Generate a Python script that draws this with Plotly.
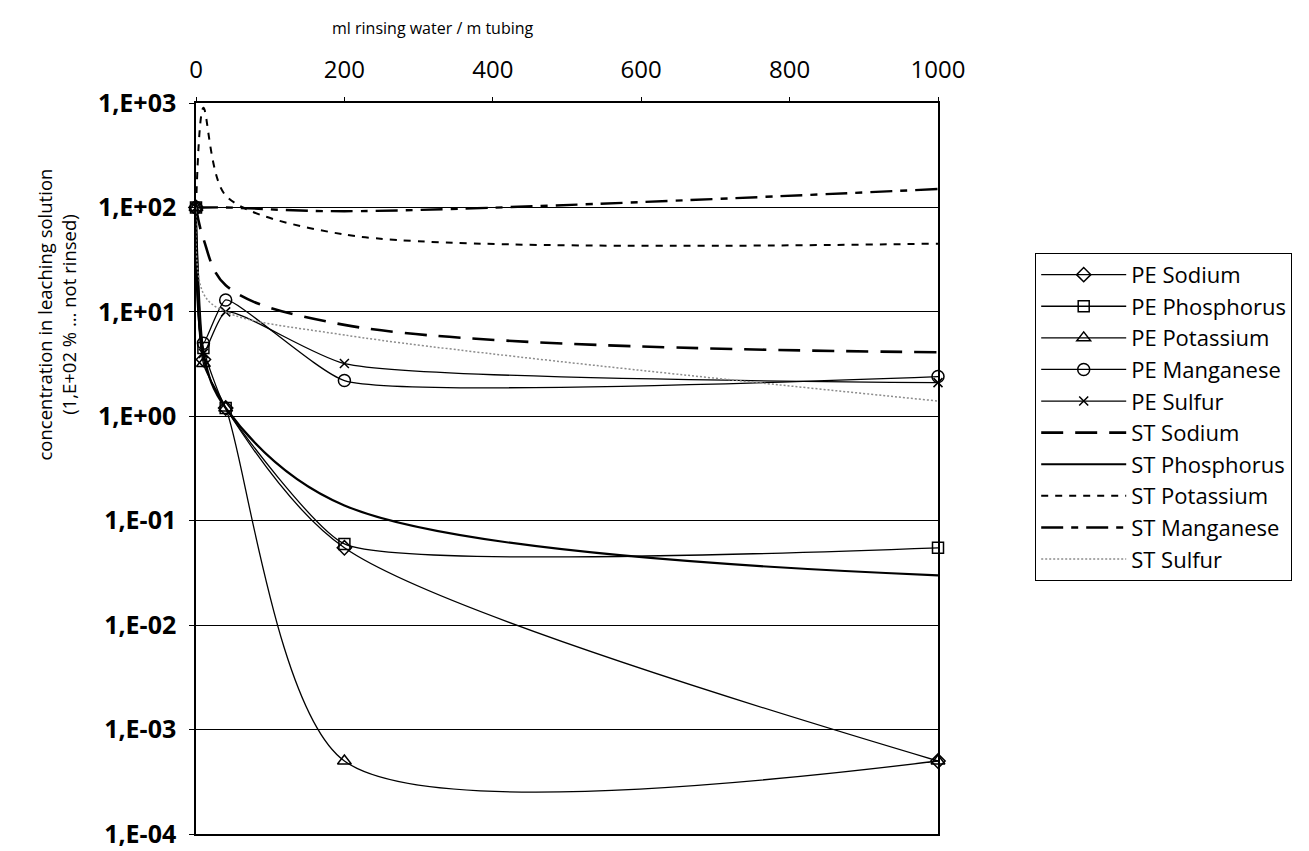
import plotly.graph_objects as go

x_ml = [0, 10, 40, 200, 1000]

pe_sodium = [100, 3.5, 1.2, 0.055, 0.0005]
pe_phosphorus = [100, 4.5, 1.2, 0.06, 0.055]
pe_potassium = [100, 3.2, 1.2, 0.0005, 0.0005]
pe_manganese = [100, 5.0, 13.0, 2.2, 2.4]
pe_sulfur = [100, 4.0, 10.0, 3.2, 2.1]

st_sodium = [100, 50, 18, 7.5, 4.1]
st_phosphorus = [100, 4.0, 1.2, 0.14, 0.03]
st_potassium = [100, 900, 130, 55, 45]
st_manganese = [100, 100, 100, 92, 150]
st_sulfur = [100, 15, 10, 6.0, 1.4]

y_tickvals = [1e-4, 1e-3, 1e-2, 1e-1, 1e0, 1e1, 1e2, 1e3]
y_ticktext = ["1,E-04", "1,E-03", "1,E-02", "1,E-01", "1,E+00", "1,E+01", "1,E+02", "1,E+03"]
x_tickvals = [0, 200, 400, 600, 800, 1000]

FONT = "Open Sans"

fig = go.Figure()

pe_series = [
    ("PE Sodium", pe_sodium, "diamond-open", 11, 0.8),
    ("PE Phosphorus", pe_phosphorus, "square-open", 11, 0.45),
    ("PE Potassium", pe_potassium, "triangle-up-open", 12, 0.75),
    ("PE Manganese", pe_manganese, "circle-open", 12, 0.45),
    ("PE Sulfur", pe_sulfur, "x-thin-open", 9, 0.55),
]
for i, (name, vals, sym, sz, sm) in enumerate(pe_series):
    fig.add_trace(go.Scatter(
        x=x_ml, y=vals, name=name, mode="lines+markers",
        line=dict(color="black", width=1.3, shape="spline", smoothing=sm),
        marker=dict(symbol=sym, size=sz, color="black", line=dict(width=1.5, color="black")),
        cliponaxis=False, legendgroup=f"g{i}",
    ))

st_series = [
    ("ST Sodium", st_sodium, "black", 2.6, "22px,12px", 1.0),
    ("ST Phosphorus", st_phosphorus, "black", 2.2, "solid", 1.0),
    ("ST Potassium", st_potassium, "black", 2.0, "7px,7px", 0.8),
    ("ST Manganese", st_manganese, "black", 2.4, "22px,8px,7px,8px", 1.0),
    ("ST Sulfur", st_sulfur, "#8c8c8c", 1.5, "2px,2px", 1.0),
]
for j, (name, vals, col, w, dash, sm) in enumerate(st_series):
    fig.add_trace(go.Scatter(
        x=x_ml, y=vals, name=name, mode="lines",
        line=dict(color=col, width=w, dash=dash, shape="spline", smoothing=sm),
        cliponaxis=False, legendgroup=f"g{j+5}",
    ))

fig.update_layout(
    width=1309, height=851,
    margin=dict(l=188, r=379, t=95, b=25, autoexpand=False),
    paper_bgcolor="white", plot_bgcolor="white",
    font=dict(family=FONT, color="black"),
    showlegend=True,
    legend=dict(
        x=1.131, y=0.795, xanchor="left", yanchor="top",
        bordercolor="black", borderwidth=1, bgcolor="white",
        font=dict(family=FONT, size=22, color="black"),
        traceorder="grouped", tracegroupgap=0, itemwidth=85,
    ),
    xaxis=dict(
        side="top", range=[0, 1000], tickvals=x_tickvals,
        showgrid=False, zeroline=False, automargin=False,
        showline=True, linecolor="black", linewidth=1.5, mirror=True,
        ticks="outside", ticklen=4, tickcolor="black", ticklabelstandoff=10,
        tickfont=dict(family=FONT, size=24, color="black"),
    ),
    yaxis=dict(
        type="log", range=[-4, 3], tickvals=y_tickvals, ticktext=y_ticktext,
        showgrid=True, gridcolor="black", gridwidth=1,
        zeroline=False, automargin=False, ticklabeloverflow="allow",
        showline=True, linecolor="black", linewidth=1.5, mirror=True,
        ticks="outside", ticklen=5, tickcolor="black", ticklabelstandoff=8,
        tickfont=dict(family=FONT, size=25, color="black", weight="bold"),
    ),
    annotations=[
        dict(text="ml rinsing water / m tubing", x=0.319, y=1.103,
             xref="paper", yref="paper", xanchor="center", yanchor="middle",
             showarrow=False, font=dict(family=FONT, size=16, color="black")),
        dict(text="concentration in leaching solution<br>(1,E+02 % ... not rinsed)",
             x=-0.188, y=0.71, xref="paper", yref="paper",
             xanchor="center", yanchor="middle", showarrow=False,
             textangle=-90, font=dict(family=FONT, size=18.5, color="black")),
    ],
)

fig.write_html("out.html")
